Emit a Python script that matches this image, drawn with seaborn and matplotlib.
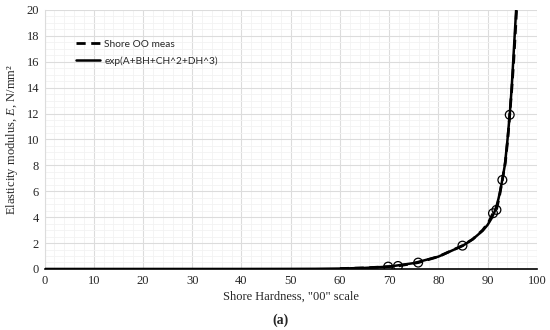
import matplotlib
matplotlib.use("Agg")
import matplotlib.pyplot as plt
from matplotlib.ticker import MultipleLocator
import seaborn as sns
import pandas as pd

# measured points (circles)
meas_h = [69.8, 71.8, 75.9, 84.9, 91.1, 91.8, 93.0, 94.5]
meas_e = [0.18, 0.23, 0.49, 1.8, 4.3, 4.56, 6.87, 11.9]
# dashed measured line (continues past the top edge)
dash_h = [60, 65, 69.8, 71.8, 75.9, 80, 84.9, 87, 89, 90.2, 91.1, 91.8, 92.4, 93.0,
          93.6, 94.1, 94.5, 94.9, 95.3, 95.6, 95.95]
dash_e = [0.03, 0.08, 0.18, 0.23, 0.49, 0.95, 1.8, 2.3, 3.0, 3.6, 4.3, 4.56, 5.6, 6.87,
          8.2, 10.0, 11.9, 13.8, 16.0, 18.0, 20.4]
# fitted curve exp(A+BH+CH^2+DH^3)
fit_h = [0, 20, 40, 50, 55, 60, 65, 70, 75, 80, 85, 87, 89, 90, 90.8, 91.4, 91.85,
         92.2, 92.5, 93.0, 93.5, 94.0, 94.5, 94.9, 95.2, 95.5, 95.8, 96.0]
fit_e = [0, 0, 0, 0.005, 0.01, 0.03, 0.08, 0.18, 0.45, 0.95, 1.8, 2.3, 2.95, 3.4, 3.9,
         4.4, 4.9, 5.4, 5.9, 6.9, 8.0, 9.8, 11.9, 14.0, 16.0, 18.0, 20.0, 21.5]

sns.set_style("white")
plt.rcParams["mathtext.fontset"] = "custom"
plt.rcParams["mathtext.it"] = "Liberation Serif:italic"
plt.rcParams["mathtext.rm"] = "Liberation Serif"

fig = plt.figure(figsize=(5.5, 3.3), dpi=100)
ax = fig.add_axes([0.081, 0.185, 0.895, 0.785])

df_fit = pd.DataFrame({"H": fit_h, "E": fit_e})
df_dash = pd.DataFrame({"H": dash_h, "E": dash_e})
df_meas = pd.DataFrame({"H": meas_h, "E": meas_e})

sns.lineplot(data=df_dash, x="H", y="E", ax=ax, color="black", lw=2.0,
             linestyle=(0, (3.3, 2.0)), label="Shore OO meas", sort=False, zorder=3)
sns.lineplot(data=df_fit, x="H", y="E", ax=ax, color="black", lw=1.8,
             label="exp(A+BH+CH^2+DH^3)", sort=False, zorder=4)
sns.scatterplot(data=df_meas, x="H", y="E", ax=ax, s=40, facecolor="none",
                edgecolor="black", linewidth=0.9, zorder=5, legend=False)

ax.set_xlim(0, 100)
ax.set_ylim(0, 20)
ax.xaxis.set_major_locator(MultipleLocator(10))
ax.xaxis.set_minor_locator(MultipleLocator(2))
ax.yaxis.set_major_locator(MultipleLocator(2))
ax.yaxis.set_minor_locator(MultipleLocator(0.5))
ax.grid(which="major", color="#dcdcdc", lw=0.8)
ax.grid(which="minor", color="#f2f2f2", lw=0.6)
ax.set_axisbelow(True)
for s in ["top", "right"]:
    ax.spines[s].set_visible(False)
ax.spines["left"].set_color("#dcdcdc")
ax.spines["bottom"].set_color("black")
ax.spines["bottom"].set_linewidth(1.2)
ax.tick_params(which="both", length=0, labelsize=9, pad=4)
for lab in ax.get_xticklabels() + ax.get_yticklabels():
    lab.set_fontfamily("Liberation Serif")

ax.set_xlabel('Shore Hardness, "00" scale', fontfamily="Liberation Serif", fontsize=9, labelpad=3)
ax.set_ylabel("Elasticity modulus, $\\it{E}$, N/mm²", fontfamily="Liberation Serif",
              fontsize=9, labelpad=5)

leg = ax.legend(loc="upper left", bbox_to_anchor=(0.045, 0.92), frameon=False,
                prop={"family": "Lato", "size": 7.3}, handlelength=2.4,
                handletextpad=0.4, labelspacing=0.75)

fig.text(0.51, 0.03, "(a)", fontfamily="Liberation Serif", fontsize=10,
         fontweight="bold", ha="center", va="center")

fig.savefig("out.png", dpi=100)
